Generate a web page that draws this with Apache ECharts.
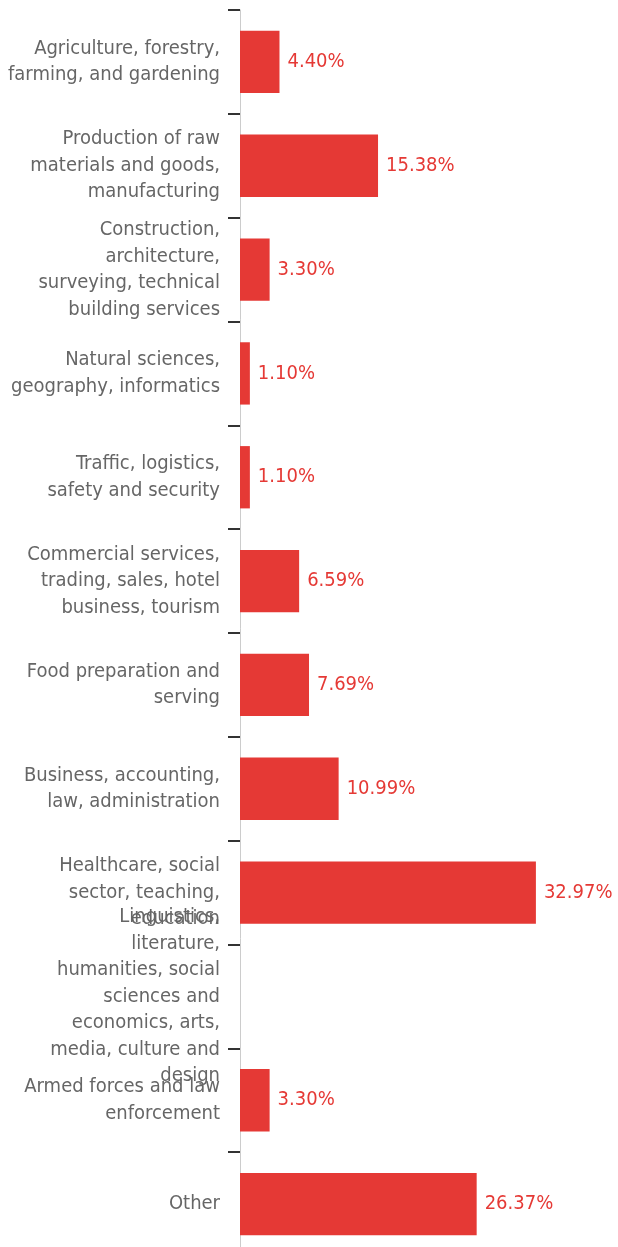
<!DOCTYPE html>
<html>
<head>
<meta charset="utf-8">
<script src="https://cdn.jsdelivr.net/npm/echarts@6/dist/echarts.min.js"></script>
<style>
  html, body { margin: 0; padding: 0; background: #fff; }
  #chart { width: 618px; height: 1247px; }
</style>
</head>
<body>
<div id="chart"></div>
<script>
// Occupational fields, top to bottom
const categories = [
  'Agriculture, forestry,\nfarming, and gardening',
  'Production of raw\nmaterials and goods,\nmanufacturing',
  'Construction,\narchitecture,\nsurveying, technical\nbuilding services',
  'Natural sciences,\ngeography, informatics',
  'Traffic, logistics,\nsafety and security',
  'Commercial services,\ntrading, sales, hotel\nbusiness, tourism',
  'Food preparation and\nserving',
  'Business, accounting,\nlaw, administration',
  'Healthcare, social\nsector, teaching,\neducation',
  'Linguistics,\nliterature,\nhumanities, social\nsciences and\neconomics, arts,\nmedia, culture and\ndesign',
  'Armed forces and law\nenforcement',
  'Other'
];

// Share of respondents per field (%); no value for linguistics
const shares = [4.40, 15.38, 3.30, 1.10, 1.10, 6.59, 7.69, 10.99, 32.97, null, 3.30, 26.37];

const FONT = '"DejaVu Sans Condensed", sans-serif';

const chart = echarts.init(document.getElementById('chart'), null, { renderer: 'canvas' });

chart.setOption({
  animation: false,
  grid: { left: 240, top: 10, width: 359, height: 1246, containLabel: false, outerBoundsMode: 'none' },
  xAxis: {
    type: 'value',
    min: 0,
    max: 40,
    show: false
  },
  yAxis: {
    type: 'category',
    data: categories,
    inverse: true,
    axisLine: { show: true, lineStyle: { color: '#cccccc', width: 1 } },
    axisTick: { show: true, length: 12, lineStyle: { color: '#333333', width: 2 } },
    axisLabel: {
      margin: 20,
      color: '#666666',
      fontFamily: FONT,
      fontSize: 20,
      lineHeight: 26.5,
      align: 'right'
    }
  },
  series: [{
    type: 'bar',
    data: shares,
    barWidth: '60%',
    itemStyle: { color: '#e53935' },
    label: {
      show: true,
      position: 'right',
      distance: 8,
      color: '#e53935',
      fontFamily: FONT,
      fontSize: 20,
      formatter: p => p.value.toFixed(2) + '%'
    }
  }]
});
</script>
</body>
</html>
